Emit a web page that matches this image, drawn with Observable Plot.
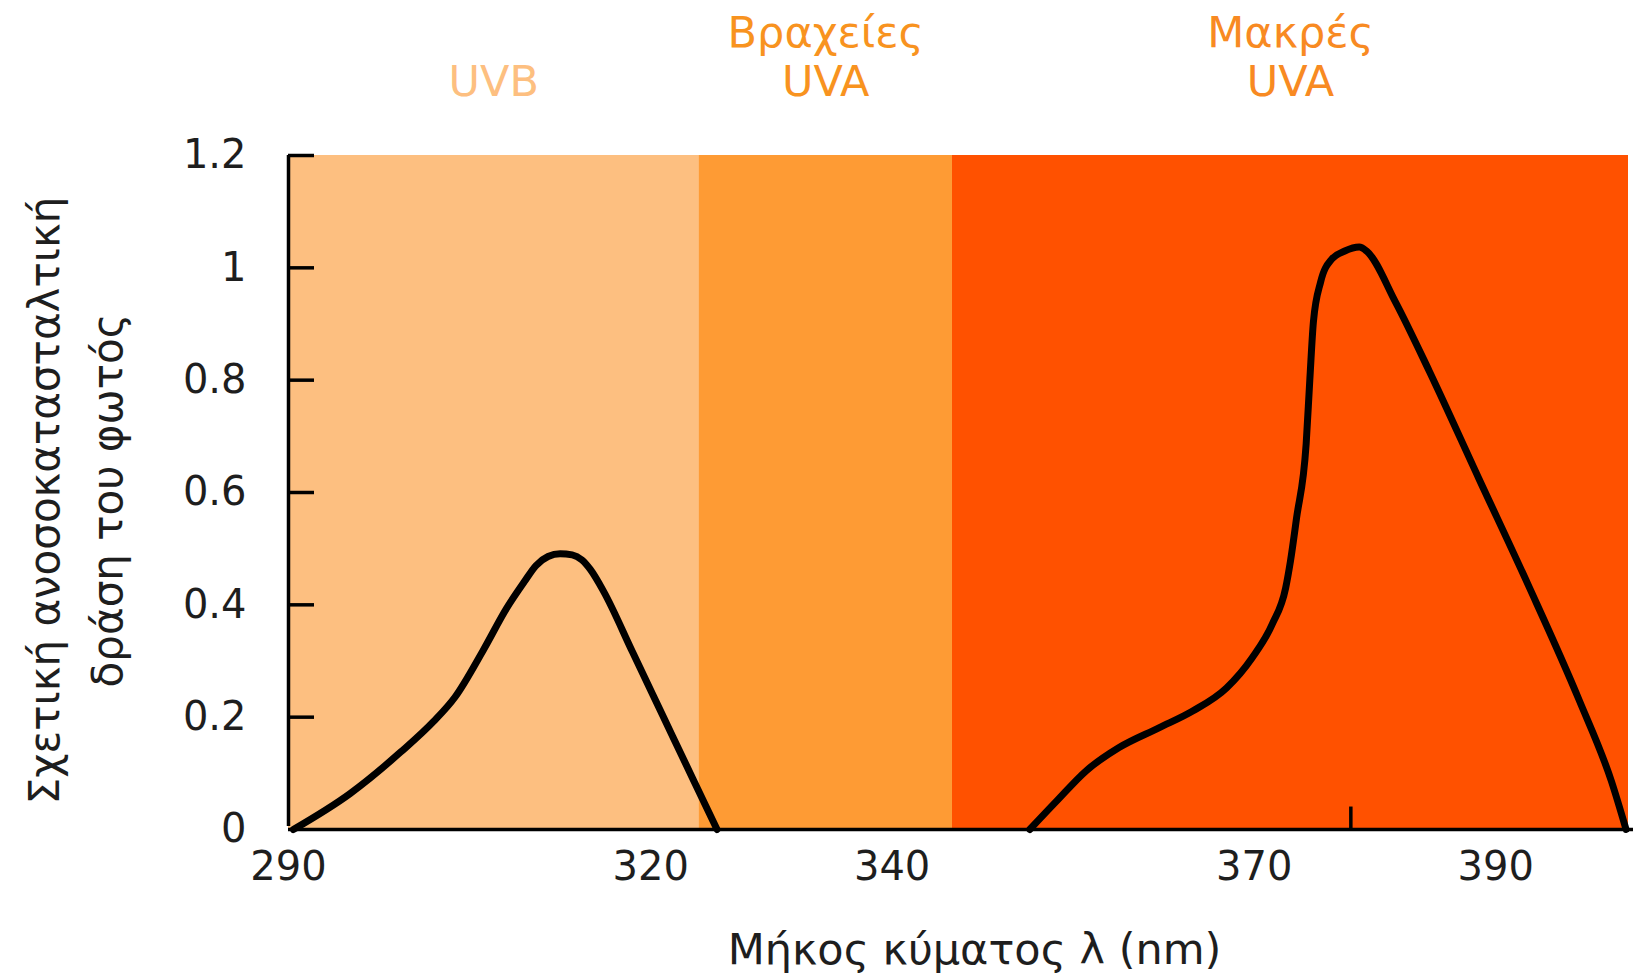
<!DOCTYPE html>
<html><head><meta charset="utf-8">
<script src="https://cdn.jsdelivr.net/npm/d3@7"></script>
<script src="https://cdn.jsdelivr.net/npm/@observablehq/plot@0.6"></script>
<style>html,body{margin:0;padding:0;background:#fff;} #chart{width:1633px;height:976px;overflow:hidden}</style>
</head><body><div id="chart"></div>
<script>
// Spectral bands
const bandLine1 = ["", "Βραχείες", "Μακρές"];
const bandLine2 = ["UVB", "UVA", "UVA"];
const bandStart = [290, 324, 345];
const bandEnd = [324, 345, 401];
const bandFill = ["#FDBF80", "#FE9B34", "#FF5100"];
const bandLabelColor = ["#FDBF80", "#F8931F", "#F88A22"];

// Action spectrum, UVB peak
const uvbWavelength = [290.4, 295.1, 299.3, 302, 303.8, 306.1, 308.1, 309.5, 310.5, 311.5, 312.5, 313.5, 314.3, 315, 316.1, 318.5, 321, 323.5, 325.5];
const uvbAction     = [0, 0.064, 0.138, 0.192, 0.236, 0.318, 0.395, 0.44, 0.47, 0.486, 0.491, 0.489, 0.48, 0.463, 0.424, 0.316, 0.203, 0.09, 0];

// Action spectrum, UVA peak
const uvaWavelength = [351.4, 353.6, 356.1, 358.8, 362.1, 364.9, 367.7, 369.8, 371.5, 372.6, 373.0, 373.5, 374.3, 374.6, 374.9, 375.5, 376.4, 377.5, 378.7, 379.3, 381.7, 384.5, 388.6, 392.7, 396.9, 399.6, 400.8];
const uvaAction     = [0, 0.05, 0.105, 0.146, 0.181, 0.211, 0.252, 0.305, 0.366, 0.43, 0.478, 0.554, 0.687, 0.8, 0.904, 0.975, 1.015, 1.03, 1.037, 1.03, 0.939, 0.816, 0.625, 0.435, 0.231, 0.085, 0];

const xTicks = [290, 320, 340, 370, 390];
const yTicks = [0, 0.2, 0.4, 0.6, 0.8, 1, 1.2];
const peakMark = [378];
const xTitle = "Μήκος κύματος λ (nm)";
const yTitle = "Σχετική ανοσοκατασταλτική\nδράση του φωτός";

const bands = bandStart.map((s, i) => ({start: s, end: bandEnd[i], line1: bandLine1[i], line2: bandLine2[i], fill: bandFill[i], color: bandLabelColor[i]}));
const uvb = uvbWavelength.map((w, i) => ({w, a: uvbAction[i]}));
const uva = uvaWavelength.map((w, i) => ({w, a: uvaAction[i]}));

const W = 1633, H = 976, mL = 288, mR = 5, mT = 155, mB = 147;
const plotW = W - mL - mR;
const ink = "#1e1e1e";

const chart = Plot.plot({
  width: W, height: H,
  marginLeft: mL, marginRight: mR, marginTop: mT, marginBottom: mB,
  style: {fontFamily: "DejaVu Sans", fontSize: "40px", background: "#fff", overflow: "visible"},
  x: {domain: [290, 401]},
  y: {domain: [0, 1.2]},
  color: {type: "identity"},
  marks: [
    Plot.rect(bands, {x1: "start", x2: "end", y1: 0, y2: 1.2, fill: d => d.fill}),
    Plot.line(uvb, {x: "w", y: "a", stroke: "#000", strokeWidth: 7, curve: "monotone-x", strokeLinejoin: "round"}),
    Plot.line(uva, {x: "w", y: "a", stroke: "#000", strokeWidth: 7, curve: "monotone-x", strokeLinejoin: "round"}),
    Plot.ruleY([0], {stroke: "#000", strokeWidth: 3.5, insetRight: -5}),
    Plot.ruleX([290], {y1: 0, y2: 1.2, stroke: "#000", strokeWidth: 3.5, insetTop: -3}),
    Plot.tickY(yTicks.filter(d => d > 0), {y: d => d, stroke: "#000", strokeWidth: 3.5, insetRight: plotW - 26}),
    Plot.ruleX(peakMark, {y1: 0, y2: 0.04, stroke: "#000", strokeWidth: 3.5}),
    Plot.axisY({ticks: yTicks, tickSize: 0, tickPadding: 42, tickFormat: d => String(d), fontSize: 40, color: ink, label: null}),
    Plot.axisX({ticks: xTicks, tickSize: 0, tickPadding: 22, tickFormat: d => String(d), fontSize: 40, color: ink, label: null}),
    Plot.text(bands, {x: d => (d.start + d.end) / 2, text: "line2", frameAnchor: "top", dy: -73, lineAnchor: "middle", fontSize: 43, fill: d => d.color}),
    Plot.text(bands, {x: d => (d.start + d.end) / 2, text: "line1", frameAnchor: "top", dy: -122, lineAnchor: "middle", fontSize: 43, fill: d => d.color}),
    Plot.text([xTitle], {text: d => d, frameAnchor: "bottom", dx: 16, dy: 121, lineAnchor: "middle", fontSize: 43, fill: ink}),
    Plot.text([yTitle], {text: d => d, frameAnchor: "left", textAnchor: "middle", rotate: -90, dx: -218, dy: 8, lineAnchor: "middle", lineHeight: 1.5, fontSize: 42, fill: ink})
  ]
});
document.getElementById("chart").appendChild(chart);
</script>
</body></html>
